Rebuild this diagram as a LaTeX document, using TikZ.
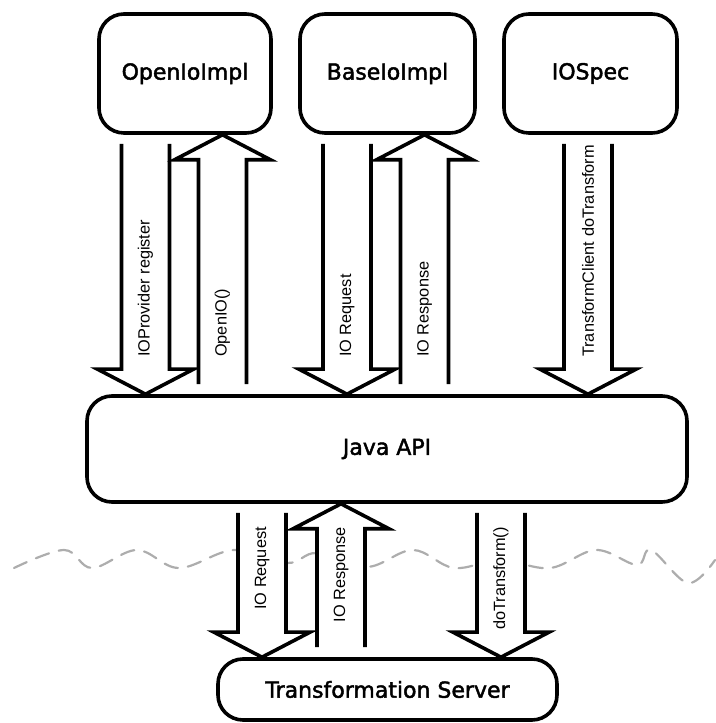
\documentclass[tikz,border=0pt]{standalone}
\usepackage{fontspec}
\setmainfont{DejaVu Sans}
\newfontfamily\boxfont[BoldFont={DejaVu Sans}, BoldFeatures={FakeBold=2}]{DejaVu Sans}
\newfontfamily\arrowfont{Liberation Sans}
\usetikzlibrary{calc}
\begin{document}
\begin{tikzpicture}[x=1pt, y=1pt, line join=miter,
		box/.style={draw, line width=3.6pt, rounded corners=25pt, inner sep=0pt, fill=white, font=\boxfont\bfseries\fontsize{22}{26}\selectfont},
		hollow/.style={draw, fill=white, line width=3.6pt},
		lbl/.style={font=\arrowfont\fontsize{16.3}{19}\selectfont, rotate=90, inner sep=0pt}]
			\useasboundingbox (0,0) rectangle (715,723);
			% dashed wave behind the arrows
			\draw[black!32, line width=2.2pt, dash pattern=on 14pt off 10pt, line cap=round] plot[smooth, tension=0.6] coordinates {(14,155) (64,173) (92,155) (137,173) (179,155) (234,173) (287,160) (317,170) (367,156) (413,173) (454,155) (500,163) (550,155) (596,173) (637,158) (651,173) (688,140) (715,163)};
			\node[box, minimum width=172pt, minimum height=119pt] (openio) at (185,649.5) {OpenIoImpl};
			\node[box, minimum width=175pt, minimum height=119pt] (baseio) at (387.5,649.5) {BaseIoImpl};
			\node[box, minimum width=173pt, minimum height=119pt] (iospec) at (590.5,649.5) {IOSpec};
			\node[box, minimum width=600pt, minimum height=106pt] (javaapi) at (387,274) {Java API};
			\node[box, minimum width=339pt, minimum height=61pt] (tserver) at (387.5,33.5) {Transformation Server};
			\def\downblock#1#2#3{\draw[hollow] let \p1=(#2.south), \p2=(#3.north) in
				(#1pt-24pt,\y1-9pt) -- (#1pt-24pt,\y2+25pt) -- (#1pt-48pt,\y2+25pt) -- (#1pt,\y2)
				-- (#1pt+48pt,\y2+25pt) -- (#1pt+24pt,\y2+25pt) -- (#1pt+24pt,\y1-9pt);}
			\def\upblock#1#2#3{\draw[hollow] let \p1=(#2.north), \p2=(#3.south) in
				(#1pt-24pt,\y1+10pt) -- (#1pt-24pt,\y2-25pt) -- (#1pt-48pt,\y2-25pt) -- (#1pt,\y2)
				-- (#1pt+48pt,\y2-25pt) -- (#1pt+24pt,\y2-25pt) -- (#1pt+24pt,\y1+10pt);}
			\downblock{145.5}{openio}{javaapi}
			\upblock{222.5}{javaapi}{openio}
			\downblock{347}{baseio}{javaapi}
			\upblock{424.5}{javaapi}{baseio}
			\downblock{588}{iospec}{javaapi}
			\downblock{262}{javaapi}{tserver}
			\upblock{341}{tserver}{javaapi}
			\downblock{501}{javaapi}{tserver}
			\node[lbl, anchor=west] (lregister) at (145.5,366) {IOProvider register};
			\node[lbl, anchor=west] (lopenio) at (222.5,366) {OpenIO()};
			\node[lbl, anchor=west] (lreqtop) at (347,366) {IO Request};
			\node[lbl, anchor=west] (lresptop) at (424.5,366) {IO Response};
			\node[lbl, anchor=west] (lclient) at (588,366) {TransformClient doTransform};
			\node[lbl, anchor=east] (lreqlow) at (262,196) {IO Request};
			\node[lbl, anchor=east] (lresplow) at (341,196) {IO Response};
			\node[lbl, anchor=east] (ldotrans) at (501,196) {doTransform()};
		\end{tikzpicture}
\end{document}
